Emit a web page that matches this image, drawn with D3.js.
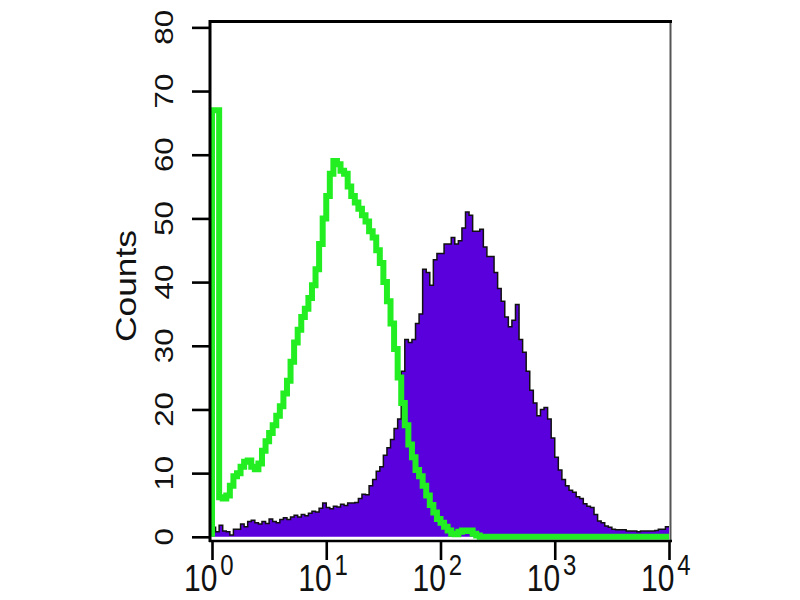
<!DOCTYPE html>
<html>
<head>
<meta charset="utf-8">
<script src="https://cdn.jsdelivr.net/npm/d3@7"></script>
<style>
  body { margin: 0; background: #fff; }
  svg { display: block; font-family: "Liberation Sans", Arial, sans-serif; }
</style>
</head>
<body>
<div id="chart"></div>
<script>
// Canvas size
const width = 800;
const height = 600;

// Histogram binning: 4 log decades, 32 channels per decade
const decades = 4;
const binsPerDecade = 32;

// Stained sample (purple filled histogram), counts per channel
const sampleCounts = [
    1.5, 0.8, 1.8, 0.9, 0.8, 0.3, 1.2, 1.2, 2.0, 1.6, 2.4, 2.6, 2.2, 2.0, 2.4, 2.1,
    2.8, 2.4, 2.2, 2.7, 3.0, 2.7, 3.1, 3.4, 3.1, 3.5, 3.3, 3.7, 4.0, 3.9, 4.5, 5.3,
    4.6, 4.4, 4.8, 4.7, 5.1, 4.9, 5.3, 5.3, 5.4, 6.0, 6.7, 6.6, 8.0, 9.0, 10.3, 11.0,
    12.8, 14.0, 15.3, 17.0, 18.5, 26.0, 31.0, 30.5, 31.0, 33.5, 35.0, 42.0, 41.5, 39.5, 43.5, 44.5,
    44.5, 46.0, 46.0, 47.0, 46.0, 46.5, 48.5, 51.0, 50.5, 48.0, 48.0, 48.3, 45.5, 44.0, 44.0, 41.5,
    39.0, 37.0, 34.5, 33.0, 34.0, 36.5, 31.0, 29.0, 26.0, 23.0, 21.0, 19.0, 20.0, 20.3, 18.5, 15.5,
    12.5, 10.5, 9.0, 8.0, 7.3, 7.0, 6.3, 6.0, 5.2, 4.8, 4.6, 3.5, 2.5, 2.2, 1.7, 1.5,
    1.2, 1.1, 1.1, 1.1, 0.9, 0.9, 0.9, 0.8, 0.9, 0.9, 0.9, 0.9, 1.0, 1.2, 1.2, 1.6
];

// Isotype control (green outline), counts per channel
const controlCounts = [
    67, 67, 6.2, 6.0, 6.5, 8.0, 9.5, 10.0, 11.0, 11.8, 12.0, 11.0, 10.6, 11.5, 13.5, 15.0,
    16.3, 17.5, 19.0, 20.5, 22.5, 24.5, 27.5, 30.5, 32.5, 34.5, 35.8, 37.5, 39.5, 42.0, 46.0, 50.0,
    53.5, 57.0, 59.0, 58.5, 57.5, 57.0, 55.0, 53.5, 52.5, 51.5, 50.5, 49.5, 48.0, 47.0, 45.0, 43.0,
    40.0, 37.0, 33.5, 29.5, 25.0, 21.0, 17.5, 14.5, 12.5, 10.5, 9.5, 8.0, 6.5, 5.0, 3.8, 2.8,
    2.2, 1.6, 1.0, 0.5, 0.4, 0.8, 1.0, 0.9, 1.0, 0.5, 0.2, 0, 0, 0, 0, 0,
    0, 0, 0, 0, 0, 0, 0, 0, 0, 0, 0, 0, 0, 0, 0, 0,
    0, 0, 0, 0, 0, 0, 0, 0, 0, 0, 0, 0, 0, 0, 0, 0,
    0, 0, 0, 0, 0, 0, 0, 0, 0, 0, 0, 0, 0, 0, 0, 0
];

// Axis ticks and labels
const yMajorTicks = [0, 10, 20, 30, 40, 50, 60, 70, 80];
const yMinorTicks = d3.range(0, 81, 2).filter(v => v % 10 !== 0);
const xDecadeExps = [0, 1, 2, 3, 4];
const xMinorMultipliers = [2, 3, 4, 5, 6, 7, 8, 9];
const yLabel = "Counts";

const purple = "#5a00dc";
const green = "#22ee22";

function main() {
    const svg = d3.select("#chart").append("svg")
        .attr("width", width)
        .attr("height", height);

    svg.append("rect")
        .attr("width", width)
        .attr("height", height)
        .attr("fill", "#fff");

    const x = d3.scaleLog()
        .domain([1, 1e4])
        .range([212, 669]);

    const y = d3.scaleLinear()
        .domain([-0.5, 81])
        .range([540, 21]);

    // Channel lower edge -> intensity
    const edge = i => Math.pow(10, i / binsPerDecade);

    // Step points: one per channel plus a closing point at the last edge
    const toSteps = counts => {
        const pts = counts.map((c, i) => [edge(i), c]);
        pts.push([edge(counts.length), counts[counts.length - 1]]);
        return pts;
    };

    const sampleSteps = toSteps(sampleCounts);
    const controlSteps = [[1, 0]].concat(toSteps(controlCounts));

    const area = d3.area()
        .curve(d3.curveStepAfter)
        .x(d => x(d[0]))
        .y0(y(0))
        .y1(d => y(d[1]));

    const line = d3.line()
        .curve(d3.curveStepAfter)
        .x(d => x(d[0]))
        .y(d => y(d[1]));

    // Purple filled histogram with black outline
    svg.append("path")
        .datum(sampleSteps)
        .attr("fill", purple)
        .attr("d", area);

    svg.append("path")
        .datum(sampleSteps)
        .attr("fill", "none")
        .attr("stroke", "#111")
        .attr("stroke-width", 1.5)
        .attr("d", line);

    // Green control line
    svg.append("path")
        .datum(controlSteps)
        .attr("fill", "none")
        .attr("stroke", green)
        .attr("stroke-width", 6)
        .attr("stroke-linejoin", "miter")
        .attr("d", line);

    // Frame
    svg.append("line")
        .attr("x1", 670.5).attr("x2", 670.5)
        .attr("y1", 21).attr("y2", 541)
        .attr("stroke", "#555")
        .attr("stroke-width", 2);
    svg.append("line")
        .attr("x1", 209).attr("x2", 672)
        .attr("y1", 21.5).attr("y2", 21.5)
        .attr("stroke", "#000")
        .attr("stroke-width", 3);

    // Y axis
    const yAxisMajor = d3.axisLeft(y)
        .tickValues(yMajorTicks)
        .tickSize(18)
        .tickFormat("");
    const yAxisMinor = d3.axisLeft(y)
        .tickValues(yMinorTicks)
        .tickSize(10)
        .tickFormat("");

    const gy = svg.append("g").attr("transform", "translate(210,0)");
    gy.call(yAxisMinor);
    gy.call(yAxisMajor);
    gy.selectAll(".domain").remove();
    gy.selectAll(".tick line").attr("stroke", "#000").attr("stroke-width", 2.6);
    svg.append("line")
        .attr("x1", 210).attr("x2", 210)
        .attr("y1", 20).attr("y2", 542)
        .attr("stroke", "#000")
        .attr("stroke-width", 3);

    // Rotated tick labels, stretched along the text like the source image
    svg.append("g")
        .selectAll("text")
        .data(yMajorTicks)
        .join("text")
        .attr("transform", d => `translate(173,${y(d)}) rotate(-90) scale(1.25,1)`)
        .attr("text-anchor", "middle")
        .attr("font-size", 25)
        .attr("fill", "#111")
        .text(d => d);

    svg.append("text")
        .attr("transform", "translate(136,286) rotate(-90)")
        .attr("text-anchor", "middle")
        .attr("font-size", 30)
        .attr("textLength", 112)
        .attr("lengthAdjust", "spacingAndGlyphs")
        .attr("fill", "#111")
        .text(yLabel);

    // X axis
    const xMajor = xDecadeExps.map(e => Math.pow(10, e));
    const xMinor = [];
    xDecadeExps.slice(0, -1).forEach(e => {
        xMinorMultipliers.forEach(m => xMinor.push(m * Math.pow(10, e)));
    });

    const gx = svg.append("g").attr("transform", "translate(0,541)");
    gx.call(d3.axisBottom(x).tickValues(xMinor).tickSize(10).tickFormat(""));
    gx.call(d3.axisBottom(x).tickValues(xMajor).tickSize(19).tickFormat(""));
    gx.selectAll(".domain").remove();
    gx.selectAll(".tick line").attr("stroke", "#000").attr("stroke-width", 2.6);
    svg.append("line")
        .attr("x1", 209).attr("x2", 672)
        .attr("y1", 541).attr("y2", 541)
        .attr("stroke", "#000")
        .attr("stroke-width", 2.5);

    // Redraw green baseline on top of the axis line
    svg.append("path")
        .datum(controlSteps.filter(d => d[0] > 50))
        .attr("fill", "none")
        .attr("stroke", green)
        .attr("stroke-width", 4.5)
        .attr("d", line);

    const xl = svg.append("g")
        .selectAll("g")
        .data(xDecadeExps)
        .join("g")
        .attr("transform", d => `translate(${x(Math.pow(10, d)) - 28},591) scale(1,1.2)`);

    const lab = xl.append("text")
        .attr("fill", "#111");
    lab.append("tspan")
        .attr("font-size", 30)
        .text("10");
    lab.append("tspan")
        .attr("font-size", 24)
        .attr("dx", 3)
        .attr("dy", -13)
        .text(d => d);
}

main();
</script>
</body>
</html>
